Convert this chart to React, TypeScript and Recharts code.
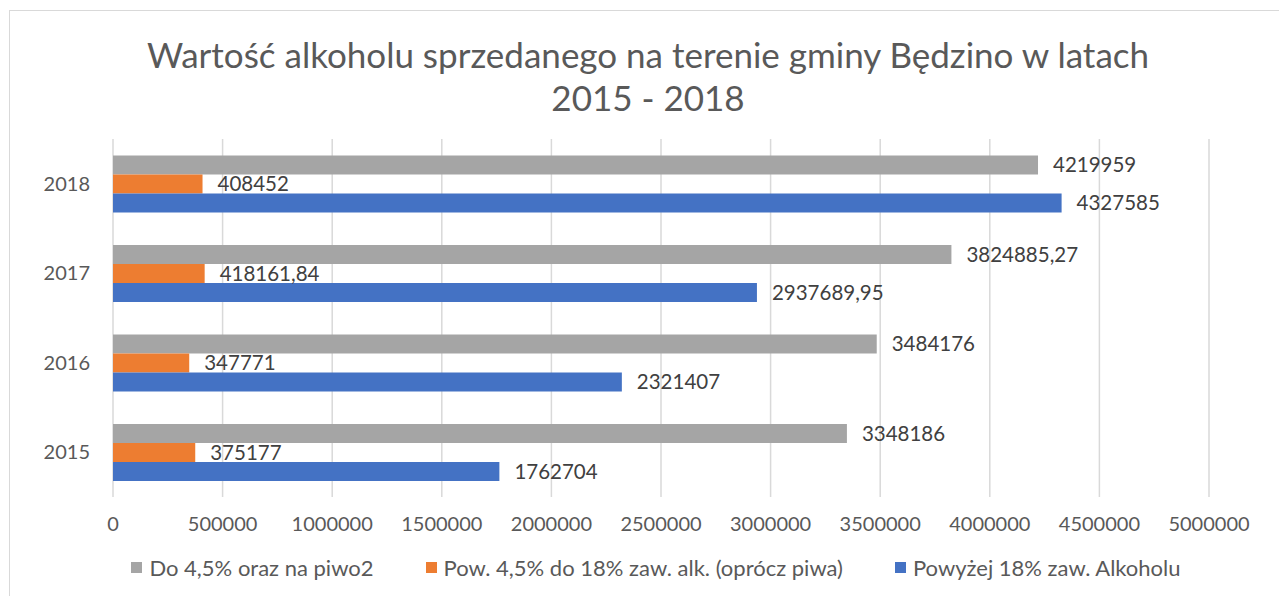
import {
  Bar,
  BarChart,
  CartesianGrid,
  LabelList,
  Legend,
  XAxis,
  YAxis,
} from "recharts";

const years = ["2015", "2016", "2017", "2018"];
const beerAndLow = [3348186, 3484176, 3824885.27, 4219959];
const midStrength = [375177, 347771, 418161.84, 408452];
const spirits = [1762704, 2321407, 2937689.95, 4327585];
const xTicks = [
  0, 500000, 1000000, 1500000, 2000000, 2500000, 3000000, 3500000, 4000000,
  4500000, 5000000,
];

const series = [
  { key: "low", name: "Do 4,5% oraz na piwo2", color: "#A5A5A5" },
  { key: "mid", name: "Pow. 4,5% do 18% zaw. alk. (oprócz piwa)", color: "#ED7D31" },
  { key: "high", name: "Powyżej 18% zaw. Alkoholu", color: "#4472C4" },
];

const data = years.map((year, i) => ({
  year,
  low: beerAndLow[i],
  mid: midStrength[i],
  high: spirits[i],
}));

const FONT = "Lato, 'Open Sans', sans-serif";
const TEXT = "#595959";

const formatValue = (v: any) => String(v).replace(".", ",");

function LegendContent() {
  return (
    <div
      style={{
        display: "flex",
        justifyContent: "center",
        paddingLeft: 33,
        fontFamily: FONT,
        fontSize: 22,
        color: TEXT,
      }}
    >
      {series.map((s, i) => (
        <div
          key={s.key}
          style={{
            display: "flex",
            alignItems: "center",
            marginLeft: i === 0 ? 0 : 52,
          }}
        >
          <span
            style={{
              width: 11,
              height: 11,
              background: s.color,
              marginRight: 7,
              display: "inline-block",
            }}
          />
          <span>{s.name}</span>
        </div>
      ))}
    </div>
  );
}

export default function App() {
  return (
    <div
      style={{
        position: "absolute",
        left: 0,
        top: 0,
        width: 1279,
        height: 596,
        background: "#fff",
        overflow: "hidden",
      }}
    >
      <div
        style={{
          position: "absolute",
          left: 9,
          top: 10,
          width: 1300,
          height: 620,
          borderLeft: "1.5px solid #d9d9d9",
          borderTop: "1.5px solid #d9d9d9",
        }}
      />
      <div
        style={{
          position: "absolute",
          left: 0,
          top: 33,
          width: 1279,
          paddingLeft: 17,
          boxSizing: "border-box",
          textAlign: "center",
          fontFamily: FONT,
          fontSize: 35,
          lineHeight: "43px",
          color: TEXT,
        }}
      >
        Wartość alkoholu sprzedanego na terenie gminy Będzino w latach
        <br />
        2015 - 2018
      </div>
      <div style={{ position: "absolute", left: 0, top: 0 }}>
        <BarChart
          width={1279}
          height={596}
          data={data}
          layout="vertical"
          margin={{ top: 139, right: 70, left: 0, bottom: 0 }}
          barCategoryGap="18.5%"
          barGap={0}
        >
          <CartesianGrid horizontal={false} stroke="#d9d9d9" strokeWidth={1.5} />
          <XAxis
            type="number"
            domain={[0, 5000000]}
            ticks={xTicks}
            interval={0}
            height={99}
            axisLine={false}
            tickLine={false}
            tickSize={0}
            tickMargin={20}
            tick={{ fill: TEXT, fontSize: 20, fontFamily: FONT }}
          />
          <YAxis
            type="category"
            dataKey="year"
            reversed
            width={113}
            axisLine={false}
            tickLine={false}
            tickSize={0}
            tickMargin={23}
            tick={{ fill: TEXT, fontSize: 20, fontFamily: FONT }}
          />
          <Legend
            layout="horizontal"
            verticalAlign="middle"
            align="center"
            wrapperStyle={{ top: 554, left: 0, width: 1279 }}
            content={() => <LegendContent />}
          />
          {series.map((s) => (
            <Bar
              key={s.key}
              dataKey={s.key}
              name={s.name}
              fill={s.color}
              isAnimationActive={false}
            >
              <LabelList
                dataKey={s.key}
                position="right"
                offset={15}
                formatter={formatValue}
                style={{ fill: "#404040", fontSize: 20.5, fontFamily: FONT }}
              />
            </Bar>
          ))}
        </BarChart>
      </div>
    </div>
  );
}
